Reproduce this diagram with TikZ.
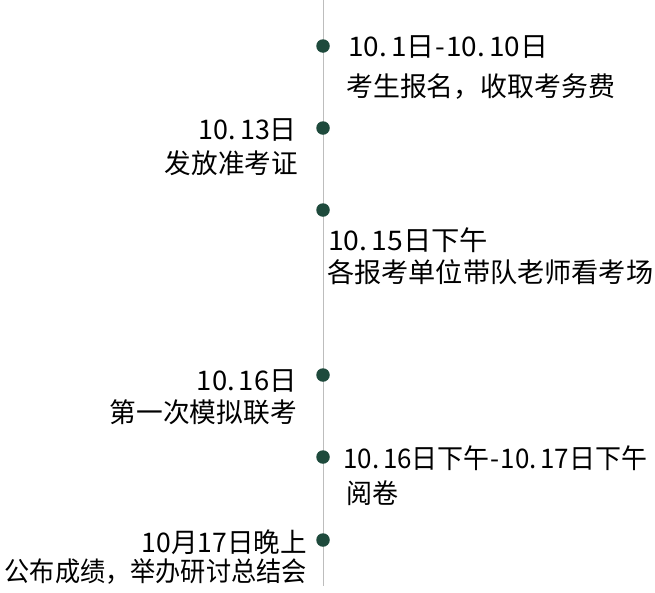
\documentclass[tikz,border=0pt]{standalone}
\usepackage{fontspec}
\usepackage{graphicx}
\newfontfamily\cjk{Noto Sans CJK SC}
\definecolor{dotgreen}{HTML}{1E4A3C}
\definecolor{linegray}{HTML}{BDBDBD}
\tikzset{
  dotmark/.style={circle,fill=dotgreen,inner sep=0pt,minimum size=13.5pt},
  lbl/.style={inner sep=0pt,font=\cjk\fontsize{27}{27}\selectfont,text=black},
  lblL/.style={lbl,anchor=west},
  lblR/.style={lbl,anchor=east},
}
\newcommand{\dk}{.\kern4pt}
\newcommand{\dsh}{\kern1pt-\kern1pt}
\newcommand{\fitw}[2]{\resizebox{#1pt}{\height}{#2}}
\begin{document}
\begin{tikzpicture}[x=1pt,y=-1pt]
\useasboundingbox (0,0) rectangle (655,592);
\coordinate (top) at (323,0);
\coordinate (bot) at (323,586);
\draw[linegray,line width=1pt] (top) -- (bot);
\node[dotmark] (d1) at (323,46) {};
\node[dotmark] (d2) at (323,128) {};
\node[dotmark] (d3) at (323,210) {};
\node[dotmark] (d4) at (323,375) {};
\node[dotmark] (d5) at (323,457) {};
\node[dotmark] (d6) at (323,540) {};
\node[lblL] (t1a) at (348,47) {\fitw{200}{10\dk1日\dsh10\dk10日}};
\node[lblL] (t1b) at (346,87) {\fitw{269}{考生报名，收取考务费}};
\node[lblR] (t2a) at (297,130) {\fitw{98}{10\dk13日}};
\node[lblR] (t2b) at (298,163) {\fitw{133}{发放准考证}};
\node[lblL] (t3a) at (328,240) {\fitw{160}{10\dk15日下午}};
\node[lblL] (t3b) at (327,272) {\fitw{326}{各报考单位带队老师看考场}};
\node[lblR] (t4a) at (297,381) {\fitw{100}{10\dk16日}};
\node[lblR] (t4b) at (297,412) {\fitw{187}{第一次模拟联考}};
\node[lblL] (t5a) at (343,458) {\fitw{304}{10\dk16日下午\dsh10\dk17日下午}};
\node[lblL] (t5b) at (346,493) {\fitw{52}{阅卷}};
\node[lblR] (t6a) at (307,542) {\fitw{165}{10月17日晚上}};
\node[lblR] (t6b) at (307,572) {\fitw{302}{公布成绩，举办研讨总结会}};
\end{tikzpicture}
\end{document}
